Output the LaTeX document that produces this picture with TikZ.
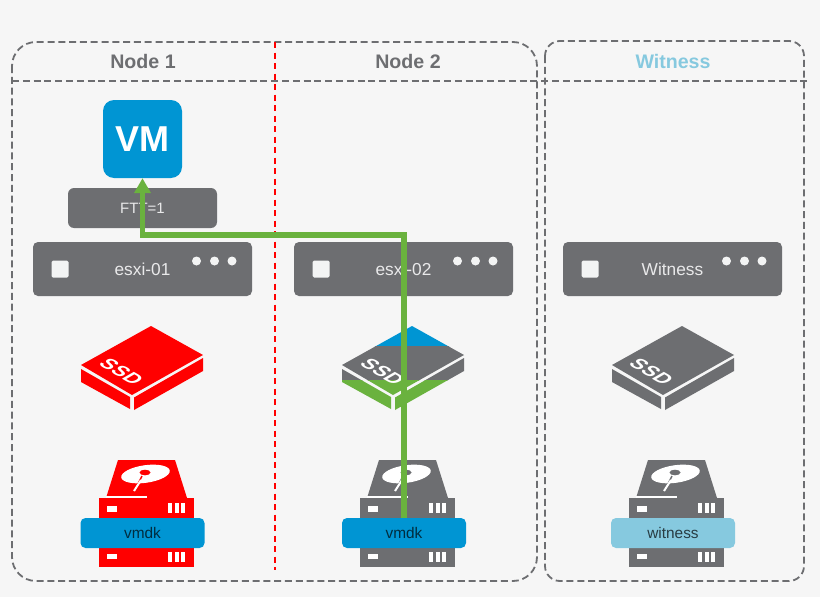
\documentclass[tikz,border=0pt]{standalone}
\usepackage{fontspec}
\setmainfont{Liberation Sans}
\usetikzlibrary{arrows.meta}
\definecolor{panelgrey}{HTML}{F6F6F6}
\definecolor{boxgrey}{HTML}{6D6E71}
\definecolor{vmblue}{HTML}{0095D3}
\definecolor{witblue}{HTML}{86C9DF}
\definecolor{pathgreen}{HTML}{6AB23E}
\tikzset{
    panel/.style={draw=boxgrey, line width=1.8pt, dash pattern=on 7pt off 3.8pt},
    title/.style={font=\bfseries\fontsize{19.6}{20}\selectfont, text=boxgrey},
    host/.style={fill=boxgrey, rounded corners=5pt, minimum width=219pt, minimum height=54pt, inner sep=0pt, text=white!85!boxgrey, font=\fontsize{17.3}{18}\selectfont},
    disk/.style={rounded corners=5pt, minimum width=124pt, minimum height=30pt, inner sep=0pt, text=black!70!#1, font=\fontsize{15.4}{16}\selectfont, fill=#1},
    pics/ssd/.style={code={
        \fill[#1] (342,365) -- (412,326) -- (464,355) -- (393,395) -- cycle;
        \fill[#1] (342,369) -- (391,397) -- (391,409) -- (342,382) -- cycle;
        \fill[#1] (395,397.5) -- (464,358) -- (464,371) -- (395,410) -- cycle;
    }},
    pics/hdd/.style={code={
        \fill[#1] (118,460) -- (175,460) -- (187,498) -- (106,498) -- cycle;
        \fill[#1] (99,498) rectangle (194,567);
        \fill[white, rotate around={8:(145.5,474)}] (145.5,474) ellipse[x radius=24.5, y radius=8.8];
        \fill[#1] (145,472.5) ellipse[x radius=5.5, y radius=2.8];
        \draw[#1, line width=1.5pt] (142,476) -- (135,490);
        \draw[white, line width=2pt] (141,480) -- (134,491);
        \fill[white] (106,495.5) rectangle (147,498);
        \fill[white] (107,506) rectangle (117,512);
        \fill[white] (107,554) rectangle (117,559);
        \foreach \barx in {168,174.5,181}{
            \fill[white] (\barx,503) rectangle ++(4,10);
            \fill[white] (\barx,552) rectangle ++(4,10);
        }
    }}
}
\begin{document}
\begin{tikzpicture}[x=1pt, y=-1pt]
    \useasboundingbox[fill=panelgrey] (0,0) rectangle (820,597);

    %panels
    \draw[panel, rounded corners=24pt] (12,42) rectangle (537,581);
    \draw[panel, rounded corners=15pt] (545,41) rectangle (804,581);
    \draw[panel] (12,81) -- (807,81);
    \draw[red, line width=1.2pt, dash pattern=on 6pt off 4.5pt] (275,42) -- (275,570);
    \node[title] (node1) at (143,61) {Node 1};
    \node[title] (node2) at (408,61) {Node 2};
    \node[title, text=witblue] (witness) at (673,61) {Witness};

    %VM
    \node[fill=vmblue, rounded corners=11pt, minimum width=79pt, minimum height=78pt, inner sep=0pt, text=white, font=\bfseries\fontsize{36}{36}\selectfont] (vm) at (142.5,139) {VM};
    \node[fill=boxgrey, rounded corners=6pt, minimum width=149pt, minimum height=40pt, inner sep=0pt, text=white!85!boxgrey, font=\fontsize{15}{15}\selectfont] (ftt) at (142.5,208) {FTT=1};

    %hosts
    \foreach \hostname/\hostlabel/\hostx in {esxi01/esxi-01/142.5, esxi02/esxi-02/403.5, hostwit/Witness/672.5}{
        \node[host] (\hostname) at (\hostx,269) {\hostlabel};
        \fill[white!92!boxgrey, rounded corners=1.5pt] (\hostx-91,260.5) rectangle ++(17,17);
        \foreach \dotx in {54,72,89.5}{
            \fill[white!92!boxgrey] (\hostx+\dotx,261) circle (4.5);
        }
    }

    %ssd
    \pic at (-261,0) {ssd=red};
    \begin{scope}
        \clip (330,320) rectangle (480,346);
        \pic {ssd=vmblue};
    \end{scope}
    \begin{scope}
        \clip (330,346) rectangle (480,380);
        \pic {ssd=boxgrey};
    \end{scope}
    \begin{scope}
        \clip (330,380) rectangle (480,415);
        \pic {ssd=pathgreen};
    \end{scope}
    \pic at (270,0) {ssd=boxgrey};
    \foreach \ssdname/\ssdx in {ssd1/121.5, ssd2/382.5, ssd3/651.5}{
        \node[cm={0.866,-0.5,0.866,0.5,(\ssdx pt,-371.5 pt)}, anchor=center, text=white, font=\bfseries\fontsize{20}{20}\selectfont, inner sep=0pt] (\ssdname) at (0,0) {SSD};
    }

    %hdd
    \pic at (0,0) {hdd=red};
    \pic at (261,0) {hdd=boxgrey};
    \pic at (530,0) {hdd=boxgrey};
    \node[disk=vmblue] (vmdk1) at (142.5,533) {vmdk};
    \node[disk=vmblue] (vmdk2) at (404,533) {vmdk};
    \node[disk=witblue] (vmdk3) at (673,533) {witness};

    %path
    \coordinate (bend) at (vm.south |- 0,235);
    \draw[-{Triangle[length=15pt, width=16pt]}, pathgreen, line width=5.2pt] (vmdk2.north) |- (bend) -- (vm.south);
\end{tikzpicture}
\end{document}
